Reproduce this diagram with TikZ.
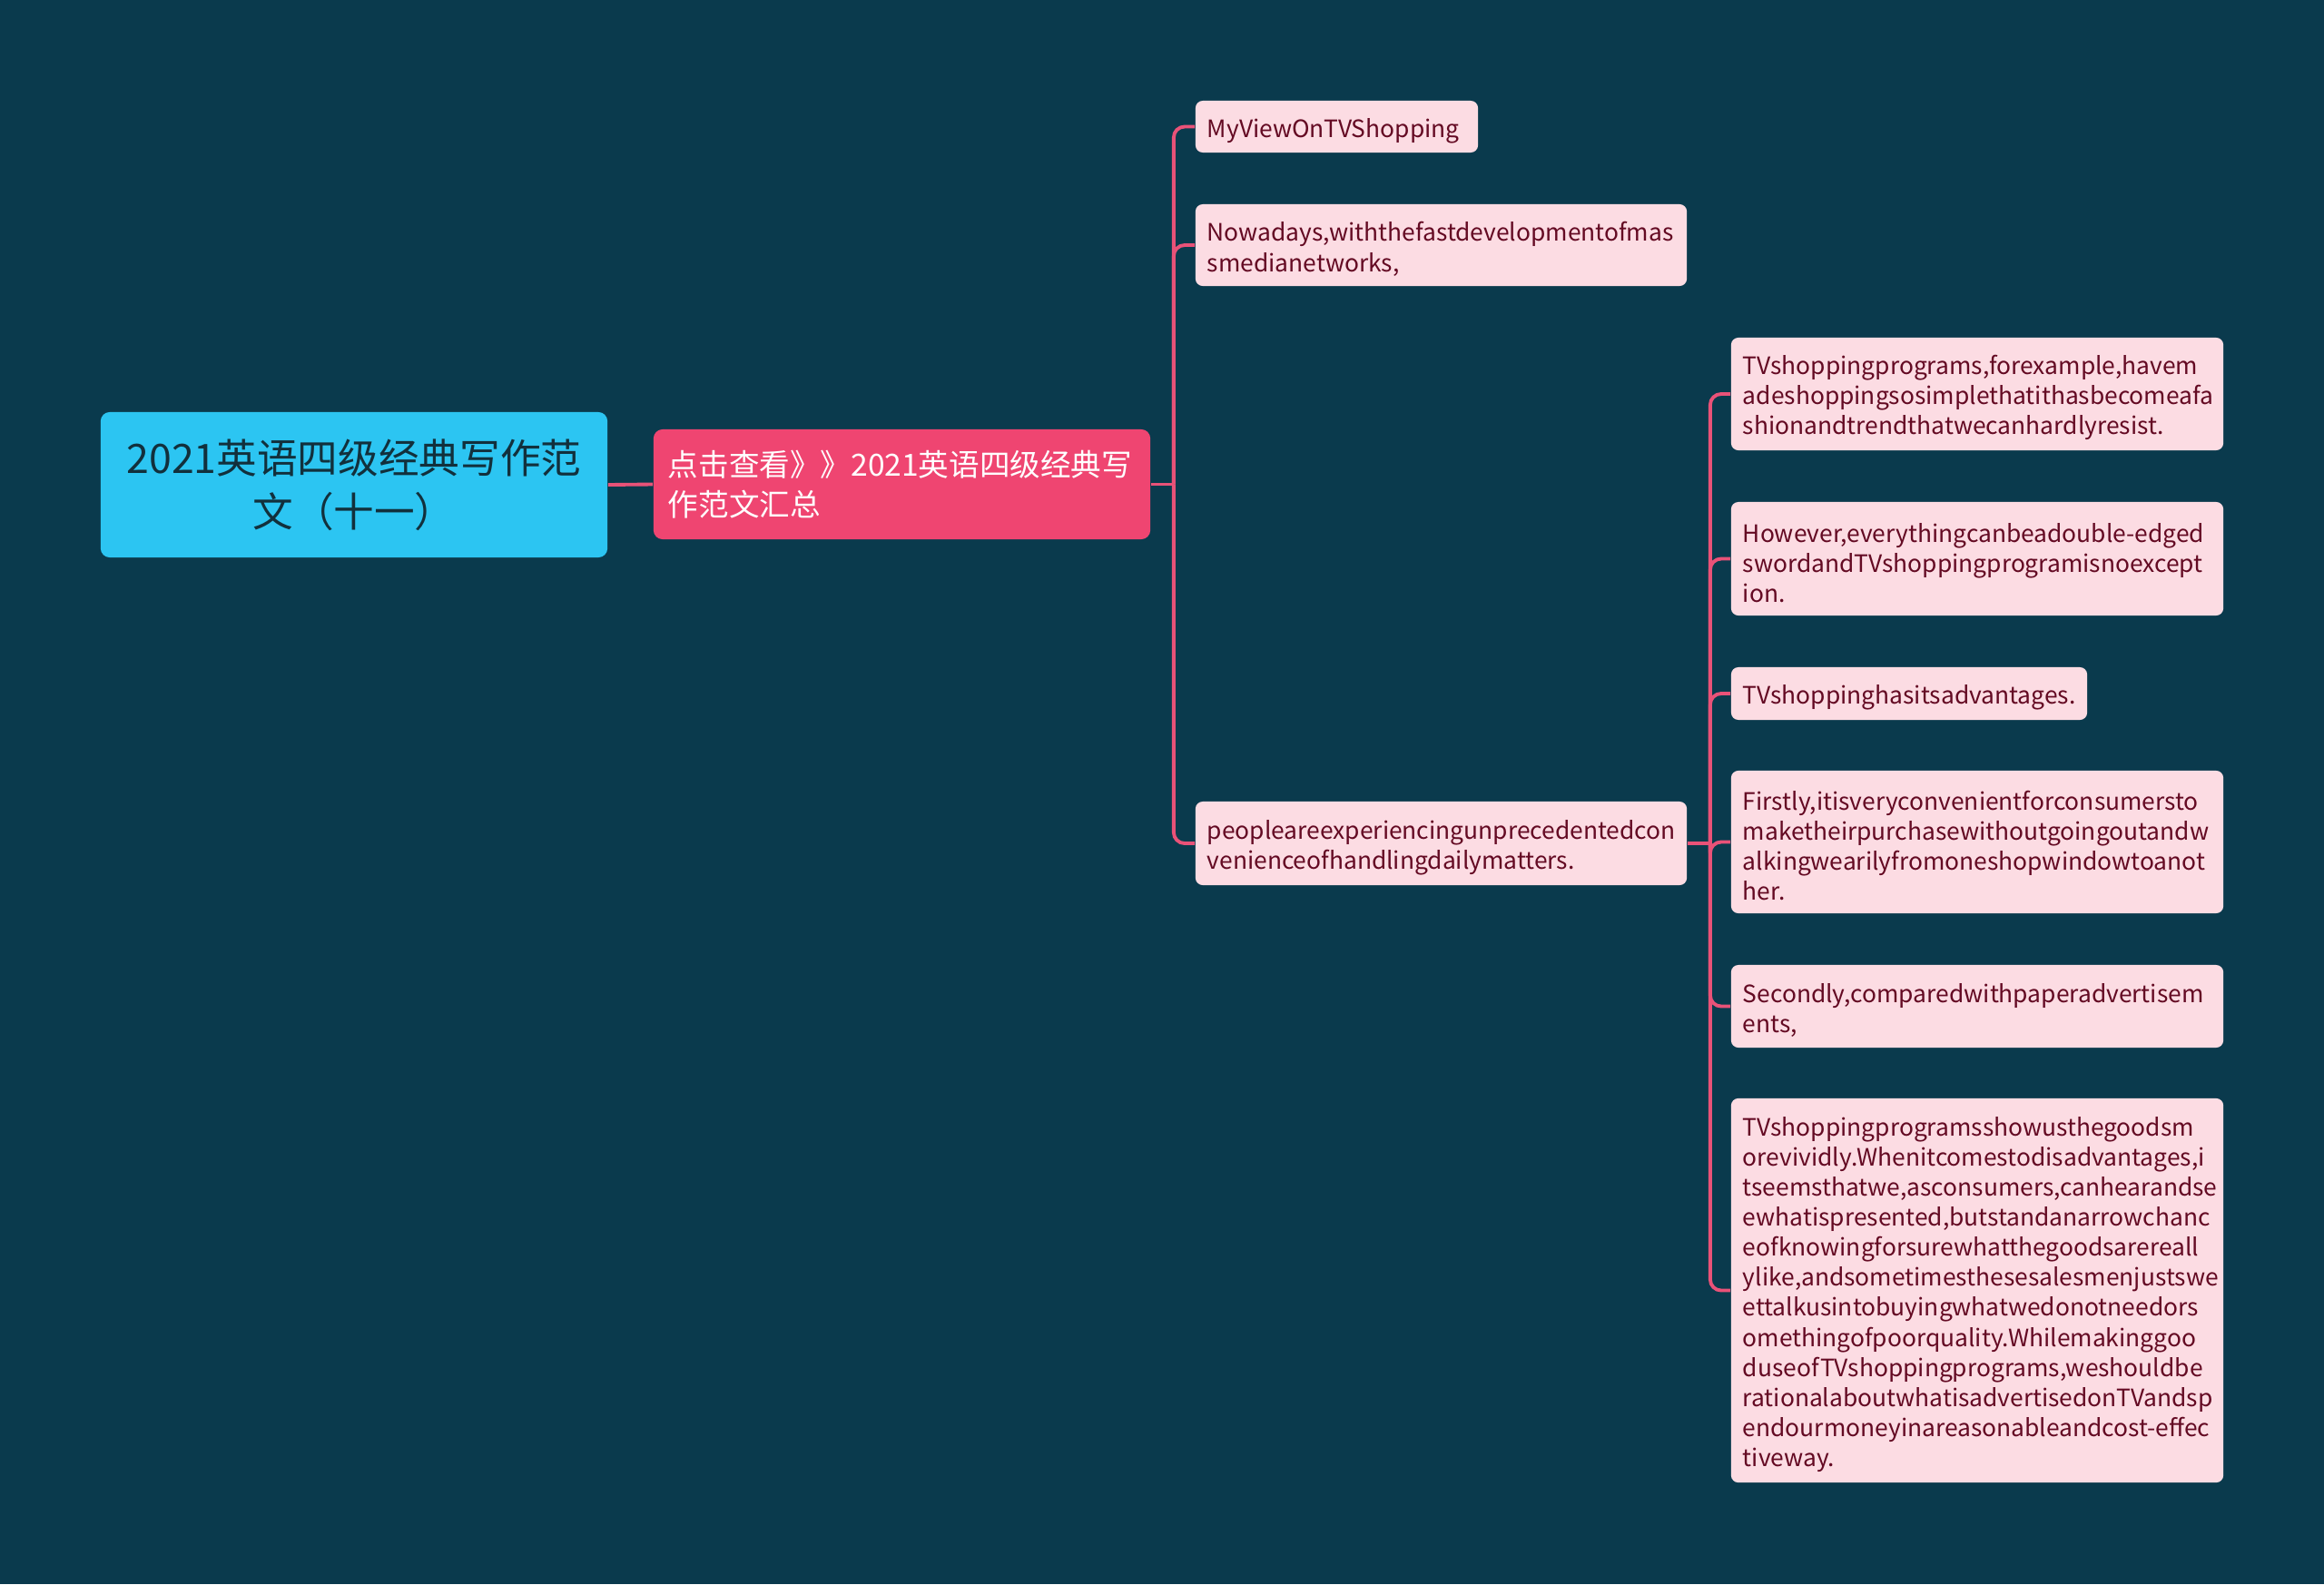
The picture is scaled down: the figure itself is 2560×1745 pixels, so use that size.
\documentclass[tikz,border=0pt]{standalone}
\usepackage{fontspec}
\setmainfont{Noto Sans CJK SC}
\usetikzlibrary{calc}

\definecolor{bgteal}{RGB}{10,58,77}
\definecolor{rootblue}{RGB}{44,197,242}
\definecolor{roottext}{RGB}{18,48,60}
\definecolor{topicred}{RGB}{239,69,113}
\definecolor{leafpink}{RGB}{252,220,227}
\definecolor{leaftext}{RGB}{100,10,35}
\definecolor{linkpink}{RGB}{233,82,120}

\newcommand{\leaffont}{\fontsize{7.5}{9.4}\selectfont\hyphenpenalty=10000 \exhyphenpenalty=10000 }

\tikzset{
  rootbox/.style={fill=rootblue, text=roottext, rounded corners=0.1cm, inner sep=0pt,
    align=center, font=\fontsize{12.7}{16.7}\selectfont},
  topicbox/.style={fill=topicred, text=white, rounded corners=0.1cm, inner xsep=0.16cm,
    inner ysep=0pt, align=left, text width=5.15cm, font=\fontsize{9.55}{12.5}\selectfont},
  leafbox/.style={fill=leafpink, text=leaftext, rounded corners=0.08cm, inner xsep=0.13cm,
    inner ysep=0pt, align=left, text width=#1, text height=0.30cm, font=\leaffont},
  link/.style={draw=linkpink, line width=1.1pt, rounded corners=0.12cm}
}

\begin{document}
\begin{tikzpicture}[x=0.01cm, y=-0.01cm]
\fill[bgteal] (0,0) rectangle (2560,1745);
\useasboundingbox (0,0) rectangle (2560,1745);

% root and main topic
\node[rootbox, minimum width=5.58cm, minimum height=1.6cm] (root) at (390,534)
  {2021英语四级经典写作范\\文（十一）};
\node[topicbox, minimum height=1.21cm] (topic) at (993.5,533.5)
  {点击查看》》2021英语四级经典写\\作范文汇总};

% second level
\node[leafbox=2.85cm, minimum height=0.57cm] (view) at (1472.5,139.5)
  {MyViewOnTVShopping};
\node[leafbox=5.15cm, minimum height=0.9cm] (nowadays) at (1587.5,270)
  {Nowadays,withthefastdevelopmentofmas\\smedianetworks,};
\node[leafbox=5.15cm, minimum height=0.92cm] (people) at (1587.5,929)
  {peopleareexperiencingunprecedentedcon\\venienceofhandlingdailymatters.};

% third level
\node[leafbox=5.16cm, minimum height=1.24cm] (fashion) at (2178,434)
  {TVshoppingprograms,forexample,havem\\adeshoppingsosimplethatithasbecomeafa\\shionandtrendthatwecanhardlyresist.};
\node[leafbox=5.16cm, minimum height=1.25cm] (sword) at (2178,615.5)
  {However,everythingcanbeadouble-edged\\swordandTVshoppingprogramisnoexcept\\ion.};
\node[leafbox=3.66cm, minimum height=0.58cm] (advant) at (2103,764)
  {TVshoppinghasitsadvantages.};
\node[leafbox=5.16cm, minimum height=1.57cm] (firstly) at (2178,927.5)
  {Firstly,itisveryconvenientforconsumersto\\maketheirpurchasewithoutgoingoutandw\\alkingwearilyfromoneshopwindowtoanot\\her.};
\node[leafbox=5.16cm, minimum height=0.91cm] (secondly) at (2178,1108.5)
  {Secondly,comparedwithpaperadvertisem\\ents,};
\node[leafbox=5.16cm, minimum height=4.23cm] (vivid) at (2178,1421.5)
  {TVshoppingprogramsshowusthegoodsm\\orevividly.Whenitcomestodisadvantages,i\\tseemsthatwe,asconsumers,canhearandse\\ewhatispresented,butstandanarrowchanc\\eofknowingforsurewhatthegoodsarereall\\ylike,andsometimesthesesalesmenjustswe\\ettalkusintobuyingwhatwedonotneedors\\omethingofpoorquality.Whilemakinggoo\\duseofTVshoppingprograms,weshouldbe\\rationalaboutwhatisadvertisedonTVandsp\\endourmoneyinareasonableandcost-effec\\tiveway.};

% connectors
\coordinate (jtopic) at ($(topic.east)+(25,0)$);
\coordinate (jpeople) at ($(people.east)+(25,0)$);
\draw[link] (root.east) -- (topic.west);
\draw[link] (topic.east) -- (jtopic);
\foreach \n in {view,nowadays,people}
  \draw[link] (jtopic) |- (\n.west);
\draw[link] (people.east) -- (jpeople);
\foreach \n in {fashion,sword,advant,firstly,secondly,vivid}
  \draw[link] (jpeople) |- (\n.west);
\end{tikzpicture}
\end{document}
